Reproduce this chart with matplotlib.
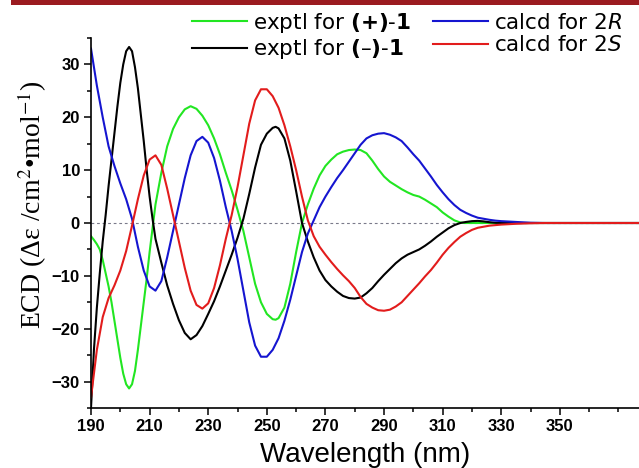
import matplotlib
matplotlib.use('Agg')
import matplotlib.pyplot as plt
from matplotlib.patches import Rectangle
from matplotlib.ticker import MultipleLocator, FixedLocator

plt.rcParams['font.family'] = ['Liberation Sans', 'DejaVu Sans']
plt.rcParams['mathtext.fontset'] = 'dejavusans'

# exptl for (+)-1 (green)
wl_plus = [190, 191, 192, 193, 194, 195, 196, 197, 198, 199, 200, 201, 202, 203, 204, 205,
           206, 207, 208, 209, 210, 211, 212, 214, 216, 218, 220, 222, 224, 226, 228, 230,
           232, 234, 236, 238, 240, 242, 244, 246, 248, 250, 252, 253, 254, 256, 258, 260,
           262, 264, 266, 268, 270, 272, 274, 276, 278, 280, 282, 284, 286, 288, 290, 292,
           294, 296, 298, 300, 302, 304, 306, 308, 310, 312, 314, 316, 318, 330, 377]
cd_plus = [-2.5, -3.2, -4.0, -5.0, -7.0, -9.5, -12.0, -15.0, -18.5, -22.0, -25.5, -28.5, -30.5, -31.3, -30.5, -28.0,
           -24.0, -19.5, -15.0, -10.5, -5.5, -1.0, 3.5, 9.5, 14.5, 17.8, 20.0, 21.5, 22.1, 21.6, 20.3, 18.5,
           16.0, 13.0, 9.5, 6.2, 2.5, -1.5, -6.5, -11.5, -15.0, -17.2, -18.2, -18.3, -18.0, -16.0, -11.5, -5.5,
           0.0, 3.5, 6.5, 9.0, 10.8, 12.0, 13.0, 13.5, 13.8, 13.9, 13.8, 13.2, 11.8, 10.2, 8.8, 7.8,
           7.1, 6.4, 5.8, 5.3, 5.0, 4.4, 3.7, 3.0, 2.0, 1.2, 0.5, 0.1, 0.0, 0.0, 0.0]

# exptl for (-)-1 (black)
wl_minus = [190, 191, 192, 193, 194, 195, 196, 197, 198, 199, 200, 201, 202, 203, 204, 205,
            206, 207, 208, 209, 210, 211, 212, 214, 216, 218, 220, 222, 224, 226, 228, 230,
            232, 234, 236, 238, 240, 242, 244, 246, 248, 250, 252, 253, 254, 256, 258, 260,
            262, 264, 266, 268, 270, 272, 274, 276, 278, 280, 282, 284, 286, 288, 290, 292,
            294, 296, 298, 300, 302, 304, 306, 308, 310, 312, 314, 316, 318, 320, 322, 324,
            326, 328, 330, 377]
cd_minus = [-35.0, -24.0, -16.0, -9.5, -3.5, 1.5, 7.0, 12.0, 17.0, 22.0, 26.5, 30.0, 32.5, 33.3, 32.5, 29.5,
            25.5, 20.5, 15.5, 10.0, 5.0, 0.8, -3.0, -7.5, -11.8, -15.3, -18.4, -20.8, -22.0, -21.2, -19.5, -17.2,
            -14.8, -12.0, -9.0, -6.0, -2.8, 0.8, 5.5, 10.5, 14.8, 16.9, 18.0, 18.2, 17.9, 16.0, 11.8, 6.0,
            0.0, -3.5, -6.5, -9.0, -10.8, -12.0, -13.0, -13.8, -14.2, -14.3, -14.1, -13.3, -12.3, -11.0, -9.8, -8.7,
            -7.6, -6.7, -6.0, -5.5, -5.0, -4.3, -3.5, -2.6, -1.8, -1.0, -0.4, 0.0, 0.2, 0.35, 0.4, 0.3,
            0.15, 0.05, 0.0, 0.0]

# calcd for 2R (blue) and 2S (red)
wl_calc = [190, 192, 194, 196, 198, 200, 202, 204, 206, 208, 210, 212, 214, 216, 218, 220,
           222, 224, 226, 228, 230, 232, 234, 236, 238, 240, 242, 244, 246, 248, 250, 252,
           254, 256, 258, 260, 262, 264, 266, 268, 270, 272, 274, 276, 278, 280, 282, 284,
           286, 288, 290, 292, 294, 296, 298, 300, 302, 304, 306, 308, 310, 312, 314, 316,
           318, 320, 322, 324, 326, 328, 330, 335, 340, 345, 377]
cd_2R = [33.0, 26.0, 20.0, 14.5, 10.8, 7.5, 4.5, 0.8, -4.5, -9.0, -12.0, -12.8, -11.0, -6.5, -1.5, 3.5,
         8.5, 12.8, 15.5, 16.3, 15.2, 12.3, 8.0, 3.0, -1.5, -6.8, -12.8, -18.8, -23.2, -25.3, -25.3, -24.0,
         -21.8, -18.5, -14.5, -10.0, -5.5, -2.0, 0.5, 3.0, 5.0, 6.8, 8.5, 10.0, 11.6, 13.2, 14.8, 16.0,
         16.6, 16.9, 17.0, 16.7, 16.2, 15.5, 14.3, 13.0, 11.8, 10.3, 8.8, 7.2, 5.8, 4.5, 3.4, 2.5,
         1.9, 1.4, 1.0, 0.8, 0.6, 0.45, 0.35, 0.2, 0.05, 0.0, 0.0]
cd_2S = [-33.0, -24.0, -17.8, -14.2, -11.8, -9.0, -5.3, -0.5, 4.5, 9.0, 12.0, 12.8, 11.0, 6.5, 1.5, -3.5,
         -8.5, -12.8, -15.5, -16.2, -15.2, -12.3, -8.0, -3.0, 1.5, 6.8, 12.8, 18.8, 23.2, 25.3, 25.3, 24.0,
         21.8, 18.5, 14.5, 10.0, 5.0, 0.5, -2.5, -4.5, -6.0, -7.4, -8.7, -9.9, -11.0, -12.3, -14.0, -15.3,
         -16.0, -16.5, -16.6, -16.4, -15.8, -15.0, -13.8, -12.6, -11.4, -10.1, -8.9, -7.5, -6.0, -4.7, -3.6, -2.6,
         -1.9, -1.3, -0.9, -0.7, -0.5, -0.4, -0.3, -0.15, -0.05, 0.0, 0.0]

x_ticks = [190, 210, 230, 250, 270, 290, 310, 330, 350]
y_ticks = [-30, -20, -10, 0, 10, 20, 30]

fig = plt.figure(figsize=(6.39, 4.68), dpi=100)
# the original picture is cropped on the right, so the axes run to the edge
ax = fig.add_axes([91 / 639, 60 / 468, 548 / 639, 370 / 468])

# dark red banner at the top
fig.add_artist(Rectangle((11 / 639, 1 - 5 / 468), 1, 5 / 468, transform=fig.transFigure,
                         color='#9b1b20', lw=0))

ax.axhline(0, color='#7a7a8a', lw=0.8, ls=(0, (2.5, 2.5)), zorder=1)

l1, = ax.plot(wl_plus, cd_plus, color='#22e622', lw=1.5)
l2, = ax.plot(wl_minus, cd_minus, color='black', lw=1.5)
l3, = ax.plot(wl_calc, cd_2R, color='#1515d0', lw=1.5)
l4, = ax.plot(wl_calc, cd_2S, color='#e21c1c', lw=1.5)

ax.set_xlim(190, 377)
ax.set_ylim(-35, 35)
ax.xaxis.set_major_locator(FixedLocator(x_ticks))
ax.xaxis.set_minor_locator(MultipleLocator(10))
ax.yaxis.set_major_locator(FixedLocator(y_ticks))
ax.yaxis.set_minor_locator(MultipleLocator(5))
ax.tick_params(which='major', direction='out', length=5, width=1.1, labelsize=12, pad=3)
ax.tick_params(which='minor', direction='out', length=3, width=1.1)
for lab in ax.get_xticklabels() + ax.get_yticklabels():
    lab.set_fontweight('bold')

for side in ['top', 'right']:
    ax.spines[side].set_visible(False)
for side in ['left', 'bottom']:
    ax.spines[side].set_linewidth(1.2)

ax.set_xlabel('Wavelength (nm)', fontsize=20, labelpad=6)
ax.set_ylabel('ECD (Δε /cm$^{2}$•mol$^{-1}$)', fontsize=20, family='Liberation Serif',
              math_fontfamily='stix')
ax.yaxis.set_label_coords(-0.077, 0.55)

labels = [r'exptl for $\mathbf{(+)}$-$\mathbf{1}$',
          r'exptl for $\mathbf{(–)}$-$\mathbf{1}$',
          r'calcd for 2$\mathit{R}$',
          r'calcd for 2$\mathit{S}$']
fig.legend([l1, l2, l3, l4], labels, ncol=2, loc='upper left',
           bbox_to_anchor=(192 / 639, 1 - 11 / 468), frameon=False,
           prop={'family': 'DejaVu Sans', 'size': 15.5},
           borderpad=0, borderaxespad=0, handlelength=2.55, handletextpad=0.28,
           columnspacing=1.0, labelspacing=0.1)

fig.savefig('out.png', dpi=100)
